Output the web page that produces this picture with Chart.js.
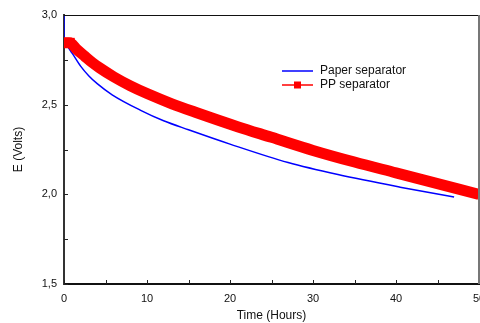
<!DOCTYPE html>
<html>
<head>
<meta charset="utf-8">
<script src="https://cdn.jsdelivr.net/npm/chart.js@4/dist/chart.umd.min.js"></script>
<style>
  html, body { margin: 0; padding: 0; background: #fff; overflow: hidden; }
  #wrap { width: 480px; height: 323px; overflow: hidden; }
  #wrap div { width: 500px; height: 323px; }
</style>
</head>
<body>
<div id="wrap"><div><canvas id="chart"></canvas></div></div>
<script>
// Time (hours) / voltage readings
const paperTime = [0, 0, 0.5, 1, 2, 3, 4, 5.8, 9.3, 12, 15, 20, 27, 33, 40.5, 47];
const paperVolts = [3.0, 2.86, 2.82, 2.786, 2.715, 2.66, 2.617, 2.555, 2.467, 2.41, 2.36, 2.28, 2.177, 2.11, 2.04, 1.985];

const ppTime = [0, 0.7, 1.5, 2.5, 3.4, 4.3, 6, 8, 10, 13, 16, 21, 25, 30, 35, 40, 45, 50];
const ppVolts = [2.845, 2.845, 2.81, 2.77, 2.735, 2.705, 2.655, 2.605, 2.562, 2.505, 2.455, 2.376, 2.318, 2.245, 2.18, 2.12, 2.06, 2.0];

const seriesNames = ["Paper separator", "PP separator"];
const xTitle = "Time (Hours)";
const yTitle = "E (Volts)";

const toPoints = (xs, ys) => xs.map((x, i) => ({ x: x, y: ys[i] }));
const font = "'Liberation Sans', Arial, sans-serif";

// inward tick marks + box borders + legend
const decorations = {
  id: "decorations",
  afterDraw(chart) {
    const { ctx, chartArea: a, scales } = chart;
    ctx.save();
    ctx.strokeStyle = "#222";
    ctx.lineWidth = 1;
    scales.y.ticks.forEach((t) => {
      const y = Math.round(scales.y.getPixelForValue(t.value)) + 0.5;
      ctx.beginPath();
      ctx.moveTo(a.left, y);
      ctx.lineTo(a.left + 4, y);
      ctx.stroke();
    });
    scales.x.ticks.forEach((t) => {
      const x = Math.round(scales.x.getPixelForValue(t.value)) + 0.5;
      ctx.beginPath();
      ctx.moveTo(x, a.bottom);
      ctx.lineTo(x, a.bottom - 4);
      ctx.stroke();
    });
    // top and right frame
    ctx.strokeStyle = "#111";
    ctx.beginPath();
    ctx.moveTo(a.left, a.top + 0.5);
    ctx.lineTo(a.right, a.top + 0.5);
    ctx.stroke();
    ctx.strokeStyle = "#777";
    ctx.lineWidth = 2;
    ctx.beginPath();
    ctx.moveTo(a.right, a.top);
    ctx.lineTo(a.right, a.bottom);
    ctx.stroke();

    // legend
    const lx = 282, ly = 71, gap = 14;
    ctx.lineWidth = 1.5;
    ctx.strokeStyle = "#0000ff";
    ctx.beginPath();
    ctx.moveTo(lx, ly);
    ctx.lineTo(lx + 31, ly);
    ctx.stroke();
    ctx.strokeStyle = "#ff0000";
    ctx.beginPath();
    ctx.moveTo(lx, ly + gap);
    ctx.lineTo(lx + 31, ly + gap);
    ctx.stroke();
    ctx.fillStyle = "#ff0000";
    ctx.fillRect(lx + 12, ly + gap - 3.5, 7, 7);
    ctx.fillStyle = "#111";
    ctx.font = "12px " + font;
    ctx.textBaseline = "middle";
    ctx.fillText(seriesNames[0], lx + 38, ly);
    ctx.fillText(seriesNames[1], lx + 38, ly + gap);
    ctx.restore();
  },
};

new Chart(document.getElementById("chart"), {
  type: "scatter",
  data: {
    datasets: [
      {
        label: seriesNames[1],
        data: toPoints(ppTime, ppVolts),
        showLine: true,
        borderColor: "#ff0000",
        backgroundColor: "#ff0000",
        borderWidth: 11,
        borderCapStyle: "butt",
        pointStyle: "rect",
        pointRadius: ppTime.map((t, i) => (i < 2 ? 7 : 0)),
        pointBorderWidth: 0,
        cubicInterpolationMode: "monotone",
      },
      {
        label: seriesNames[0],
        data: toPoints(paperTime, paperVolts),
        showLine: true,
        borderColor: "#0000ff",
        borderWidth: 1.5,
        pointRadius: 0,
        cubicInterpolationMode: "monotone",
      },
    ],
  },
  options: {
    responsive: true,
    maintainAspectRatio: false,
    animation: false,
    layout: { padding: { top: 15, right: 21, left: 11, bottom: 0 } },
    plugins: { legend: { display: false }, tooltip: { enabled: false } },
    scales: {
      x: {
        type: "linear",
        min: 0,
        max: 50,
        grid: { display: false, drawTicks: false },
        border: { color: "#111", width: 2 },
        ticks: {
          stepSize: 5,
          color: "#111",
          font: { size: 11, family: font },
          padding: 8,
          maxRotation: 0,
          autoSkip: false,
          callback: (v) => (v % 10 === 0 ? v : ""),
        },
        title: { display: true, text: xTitle, color: "#111", font: { size: 12, family: font }, padding: 0 },
        afterFit: (s) => { s.height = 39; },
      },
      y: {
        min: 1.5,
        max: 3.0,
        grid: { display: false, drawTicks: false },
        border: { color: "#333", width: 2 },
        ticks: {
          stepSize: 0.25,
          color: "#111",
          font: { size: 11, family: font },
          padding: 7,
          autoSkip: false,
          callback: (v) => (Math.abs((v * 2) - Math.round(v * 2)) < 1e-6 ? v.toFixed(1).replace(".", ",") : ""),
        },
        title: { display: true, text: yTitle, color: "#111", font: { size: 12, family: font }, padding: 0 },
        afterFit: (s) => { s.width = 53; },
      },
    },
  },
  plugins: [decorations],
});
</script>
</body>
</html>
